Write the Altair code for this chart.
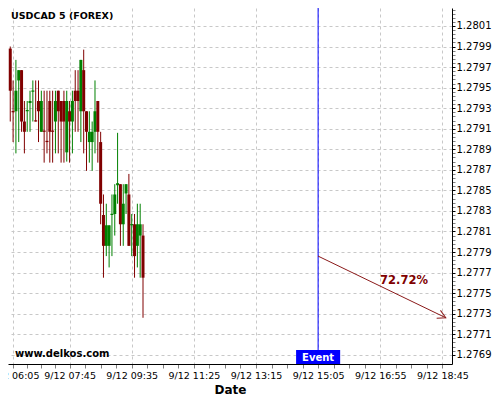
import altair as alt
import pandas as pd

chart_title = "USDCAD 5 (FOREX)"
watermark = "www.delkos.com"
day = "2018-09-12"
start_time = "06:00"
n_candles = 48

opens = [1.27988, 1.27927, 1.27927, 1.27957, 1.27967, 1.27917, 1.27927, 1.27935,
         1.27946, 1.27918, 1.27937, 1.27907, 1.27908, 1.27898, 1.27937, 1.27908,
         1.27917, 1.27947, 1.27937, 1.27937, 1.27887, 1.27927, 1.27917, 1.27947,
         1.27947, 1.27927, 1.27967, 1.27927, 1.27897, 1.27897, 1.27907, 1.27937,
         1.27897, 1.27826, 1.27796, 1.27796, 1.27826, 1.27827, 1.27855, 1.27856,
         1.27817, 1.27847, 1.27846, 1.27816, 1.27817, 1.27796, 1.27806, 1.27806]
highs = [1.27990, 1.27957, 1.27977, 1.27967, 1.27967, 1.27937, 1.27937, 1.27947,
         1.27957, 1.27957, 1.27957, 1.27947, 1.27947, 1.27947, 1.27947, 1.27947,
         1.27947, 1.27947, 1.27937, 1.27947, 1.27947, 1.27937, 1.27947, 1.27967,
         1.27967, 1.27977, 1.27987, 1.27927, 1.27927, 1.27917, 1.27957, 1.27937,
         1.27907, 1.27846, 1.27837, 1.27816, 1.27846, 1.27856, 1.27906, 1.27856,
         1.27856, 1.27856, 1.27866, 1.27827, 1.27827, 1.27837, 1.27837, 1.27817]
lows = [1.27917, 1.27897, 1.27886, 1.27897, 1.27907, 1.27886, 1.27907, 1.27907,
        1.27917, 1.27917, 1.27897, 1.27907, 1.27877, 1.27886, 1.27877, 1.27877,
        1.27886, 1.27886, 1.27877, 1.27877, 1.27878, 1.27877, 1.27886, 1.27907,
        1.27907, 1.27897, 1.27886, 1.27869, 1.27877, 1.27869, 1.27886, 1.27877,
        1.27817, 1.27765, 1.27786, 1.27775, 1.27786, 1.27806, 1.27837, 1.27796,
        1.27796, 1.27827, 1.27796, 1.27786, 1.27765, 1.27775, 1.27765, 1.27726]
closes = [1.27947, 1.27926, 1.27947, 1.27967, 1.27917, 1.27907, 1.27928, 1.27937,
          1.27947, 1.27917, 1.27927, 1.27937, 1.27907, 1.27897, 1.27907, 1.27907,
          1.27937, 1.27927, 1.27917, 1.27917, 1.27937, 1.27917, 1.27937, 1.27937,
          1.27937, 1.27977, 1.27927, 1.27907, 1.27907, 1.27907, 1.27927, 1.27907,
          1.27837, 1.27796, 1.27816, 1.27816, 1.27827, 1.27846, 1.27857, 1.27817,
          1.27837, 1.27856, 1.27796, 1.27817, 1.27786, 1.27817, 1.27817, 1.27765]

x_tick_times = ["06:05", "07:45", "09:35", "11:25", "13:15", "15:05", "16:55", "18:45"]
x_domain = ["05:56", "19:02"]
y_ticks = [1.2769, 1.2771, 1.2773, 1.2775, 1.2777, 1.2779, 1.2781, 1.2783, 1.2785,
           1.2787, 1.2789, 1.2791, 1.2793, 1.2795, 1.2797, 1.2799, 1.2801, 1.2803]
y_minor_per_major = 5
x_minor_per_major = 4
y_domain = [1.27681, 1.280275]

event_time = "15:05"
event_box = ["14:26", "15:44"]
event_label = "Event"
arrow_start = ["15:05", 1.27786]
arrow_end = ["18:51", 1.27726]
prob_text = "72.72%"
prob_pos = ["17:37", 1.27762]

RED = "#800000"
GREEN = "#008000"
ARROW = "#8b1a1a"
TICK = "#808080"


def to_min(hm):
    h, m = map(int, hm.split(":"))
    return h * 60 + m


def dt_min(total):
    total_sec = int(round(total * 60))
    h, rem = divmod(total_sec, 3600)
    m, s = divmod(rem, 60)
    return alt.DateTime(year=2018, month=9, date=12, hours=h, minutes=m, seconds=s)


def iso(hm):
    return f"{day}T{hm}:00"


times = pd.date_range(f"{day} {start_time}", periods=n_candles, freq="5min").strftime("%Y-%m-%dT%H:%M:%S").tolist()
df = pd.DataFrame({"t": times, "o": opens, "h": highs, "l": lows, "c": closes})
df["dir"] = ["up" if c > o else "down" for o, c in zip(df.o, df.c)]
df["lo"] = df[["o", "c"]].min(axis=1)
df["hi"] = df[["o", "c"]].max(axis=1)
df.loc[(df.hi - df.lo) < 0.000012, "hi"] = df.lo + 0.000012

# axis tick positions: majors plus evenly spaced minor ticks between them
major_min = [to_min(v) for v in x_tick_times]
x_vals = []
for a, b in zip(major_min[:-1], major_min[1:]):
    for k in range(x_minor_per_major):
        x_vals.append(a + (b - a) * k / x_minor_per_major)
x_vals.append(major_min[-1])
x_major_test = "indexof([" + ",".join(str(m) for m in major_min) + "], hours(datum.value)*60+minutes(datum.value)+seconds(datum.value)/60) >= 0"

y_vals = []
for a, b in zip(y_ticks[:-1], y_ticks[1:]):
    for k in range(y_minor_per_major):
        y_vals.append(round(a + (b - a) * k / y_minor_per_major, 6))
y_vals.append(y_ticks[-1])
y_major_test = "abs((datum.value - 1.2769) / 0.0002 - round((datum.value - 1.2769) / 0.0002)) < 0.01"

xscale = alt.Scale(domain=[dt_min(to_min(x_domain[0])), dt_min(to_min(x_domain[1]))], nice=False, padding=0)
yscale = alt.Scale(domain=y_domain, zero=False, nice=False, padding=0)
color = alt.Color("dir:N", scale=alt.Scale(domain=["up", "down"], range=[GREEN, RED]), legend=None)

x_axis = alt.Axis(
    values=[dt_min(v) for v in x_vals], format="%-m/%d %H:%M", labelAngle=0,
    labelExpr=f"({x_major_test}) ? datum.label : ''",
    labelFontSize=9.5, labelColor="black", labelOverlap=False, labelFlush=False,
    tickColor=TICK, tickSize=4, labelPadding=2, domainColor="black",
    gridColor="#c8c8c8", gridDash=[3, 3],
    gridOpacity={"condition": {"test": x_major_test, "value": 1}, "value": 0},
    title="Date", titleFontSize=12,
    titleFontWeight="bold", titleColor="black", titlePadding=5,
)
y_axis = alt.Axis(
    orient="right", values=y_vals, format=".4f", labelFontSize=10, labelColor="black",
    labelExpr=f"({y_major_test}) ? datum.label : ''",
    tickColor={"condition": {"test": y_major_test, "value": "black"}, "value": TICK},
    tickSize=3, labelPadding=1, domainColor="black",
    gridColor="#c8c8c8", gridDash=[3, 3],
    gridOpacity={"condition": {"test": y_major_test, "value": 1}, "value": 0},
    title="", labelOverlap=False, labelFlush=False,
)


def X(field):
    return alt.X(field, scale=xscale, axis=x_axis)


def Y(field):
    return alt.Y(field, scale=yscale, axis=y_axis)


wicks = alt.Chart(df).mark_rule(strokeWidth=1).encode(
    x=X("t:T"), y=Y("l:Q"), y2="h:Q", color=color,
)
bodies = alt.Chart(df).mark_bar(size=3).encode(
    x=X("t:T"), y=Y("lo:Q"), y2="hi:Q", color=color,
)

ev_df = pd.DataFrame({"t": [iso(event_time)], "t0": [iso(event_box[0])], "t1": [iso(event_box[1])], "s": [event_label]})
event_line = alt.Chart(ev_df).mark_rule(color="#0000ff", strokeWidth=1).encode(x=X("t:T"))
event_rect = alt.Chart(ev_df).mark_rect(color="#0000ff").encode(
    x=X("t0:T"), x2="t1:T", y=alt.value(342), y2=alt.value(356)
)
event_txt = alt.Chart(ev_df).mark_text(color="white", fontWeight="bold", fontSize=10, baseline="middle").encode(
    x=X("t:T"), y=alt.value(349.5), text="s:N"
)

ar_df = pd.DataFrame({"t": [iso(arrow_start[0])], "p": [arrow_start[1]],
                      "t2": [iso(arrow_end[0])], "p2": [arrow_end[1]]})
arrow_line = alt.Chart(ar_df).mark_rule(color=ARROW, strokeWidth=1).encode(
    x=X("t:T"), x2="t2:T", y=Y("p:Q"), y2="p2:Q"
)
arrow_head = alt.Chart(ar_df).mark_point(
    shape="M -1 -0.55 L 0 0 L -1 0.55", angle=25.5, size=256, filled=False,
    strokeWidth=1, color=ARROW, opacity=1,
).encode(x=X("t2:T"), y=Y("p2:Q"))

pr_df = pd.DataFrame({"t": [iso(prob_pos[0])], "p": [prob_pos[1]], "s": [prob_text]})
prob = alt.Chart(pr_df).mark_text(fontSize=11.5, fontWeight="bold", color=RED, baseline="middle").encode(
    x=X("t:T"), y=Y("p:Q"), text="s:N"
)

wm = alt.Chart(pd.DataFrame({"s": [watermark]})).mark_text(
    align="left", baseline="middle", fontWeight="bold", fontSize=10, color="black"
).encode(x=alt.value(7), y=alt.value(346), text="s:N")
ttl = alt.Chart(pd.DataFrame({"s": [chart_title]})).mark_text(
    align="left", baseline="middle", fontWeight="bold", fontSize=9.5, color="black"
).encode(x=alt.value(3), y=alt.value(7.5), text="s:N")

chart = alt.layer(
    wicks, bodies, event_line, arrow_line, arrow_head, prob, event_rect, event_txt, wm, ttl
).properties(
    width=444, height=356,
    autosize=alt.AutoSizeParams(type="none"),
    padding={"left": 0, "top": 0, "right": 40, "bottom": 34},
).configure(font="DejaVu Sans").configure_view(stroke=None)

chart.save("out.html", embed_options={"renderer": "svg", "actions": False})
